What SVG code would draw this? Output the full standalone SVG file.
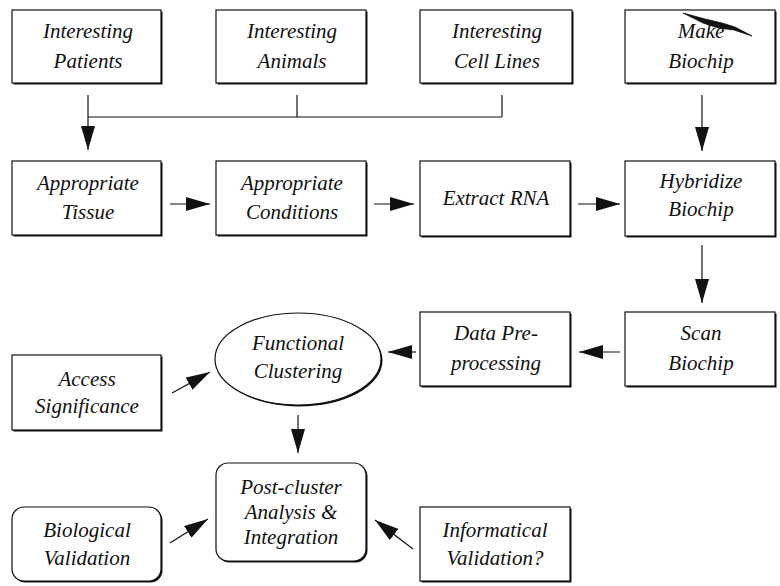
<svg xmlns="http://www.w3.org/2000/svg" width="780" height="586" viewBox="0 0 780 586">
<defs>
<marker id="ah" markerUnits="userSpaceOnUse" markerWidth="24" markerHeight="14" viewBox="0 0 24 14" refX="24" refY="7" orient="auto">
<path d="M0,0 L24,7 L0,14 z" fill="#111"/>
</marker>
</defs>
<rect width="780" height="586" fill="#fff"/>
<g id="patients">
<rect fill="#111" x="13.5" y="11.5" width="149" height="73"/>
<rect fill="#fff" stroke="#111" stroke-width="1.2" x="12" y="10" width="149" height="73"/>
<text font-family="Liberation Serif" font-style="italic" font-size="21" fill="#111" text-anchor="middle" x="88" y="38">Interesting</text>
<text font-family="Liberation Serif" font-style="italic" font-size="21" fill="#111" text-anchor="middle" x="88" y="68">Patients</text>
</g>
<g id="animals">
<rect fill="#111" x="217.5" y="11.5" width="150" height="73"/>
<rect fill="#fff" stroke="#111" stroke-width="1.2" x="216" y="10" width="150" height="73"/>
<text font-family="Liberation Serif" font-style="italic" font-size="21" fill="#111" text-anchor="middle" x="292" y="38">Interesting</text>
<text font-family="Liberation Serif" font-style="italic" font-size="21" fill="#111" text-anchor="middle" x="292" y="68">Animals</text>
</g>
<g id="celllines">
<rect fill="#111" x="421.5" y="11.5" width="152" height="73"/>
<rect fill="#fff" stroke="#111" stroke-width="1.2" x="420" y="10" width="152" height="73"/>
<text font-family="Liberation Serif" font-style="italic" font-size="21" fill="#111" text-anchor="middle" x="497" y="38">Interesting</text>
<text font-family="Liberation Serif" font-style="italic" font-size="21" fill="#111" text-anchor="middle" x="497" y="68">Cell Lines</text>
</g>
<g id="makebiochip">
<rect fill="#111" x="626.5" y="11.5" width="150" height="73"/>
<rect fill="#fff" stroke="#111" stroke-width="1.2" x="625" y="10" width="150" height="73"/>
<text font-family="Liberation Serif" font-style="italic" font-size="21" fill="#111" text-anchor="middle" x="701" y="38">Make</text>
<text font-family="Liberation Serif" font-style="italic" font-size="21" fill="#111" text-anchor="middle" x="701" y="68">Biochip</text>
<path d="M683,13 L705,19 L722,23 L735,27 L752,36 L734,30 L718,28 L703,23 Z" fill="#111" stroke="#111" stroke-width="0.8"/>
</g>

<g id="tissue">
<rect fill="#111" x="13.5" y="162.5" width="149" height="74"/>
<rect fill="#fff" stroke="#111" stroke-width="1.2" x="12" y="161" width="149" height="74"/>
<text font-family="Liberation Serif" font-style="italic" font-size="21" fill="#111" text-anchor="middle" x="88" y="190">Appropriate</text>
<text font-family="Liberation Serif" font-style="italic" font-size="21" fill="#111" text-anchor="middle" x="88" y="219">Tissue</text>
</g>
<g id="conditions">
<rect fill="#111" x="217.5" y="162.5" width="150" height="74"/>
<rect fill="#fff" stroke="#111" stroke-width="1.2" x="216" y="161" width="150" height="74"/>
<text font-family="Liberation Serif" font-style="italic" font-size="21" fill="#111" text-anchor="middle" x="292" y="190">Appropriate</text>
<text font-family="Liberation Serif" font-style="italic" font-size="21" fill="#111" text-anchor="middle" x="292" y="219">Conditions</text>
</g>
<g id="extract">
<rect fill="#111" x="421.5" y="162.5" width="150" height="75"/>
<rect fill="#fff" stroke="#111" stroke-width="1.2" x="420" y="161" width="150" height="75"/>
<text font-family="Liberation Serif" font-style="italic" font-size="21" fill="#111" text-anchor="middle" x="496" y="205">Extract RNA</text>
</g>
<g id="hybridize">
<rect fill="#111" x="626.5" y="162.5" width="150" height="75"/>
<rect fill="#fff" stroke="#111" stroke-width="1.2" x="625" y="161" width="150" height="75"/>
<text font-family="Liberation Serif" font-style="italic" font-size="21" fill="#111" text-anchor="middle" x="701" y="188">Hybridize</text>
<text font-family="Liberation Serif" font-style="italic" font-size="21" fill="#111" text-anchor="middle" x="701" y="216">Biochip</text>
</g>

<g id="scan">
<rect fill="#111" x="626.5" y="313.5" width="150" height="74"/>
<rect fill="#fff" stroke="#111" stroke-width="1.2" x="625" y="312" width="150" height="74"/>
<text font-family="Liberation Serif" font-style="italic" font-size="21" fill="#111" text-anchor="middle" x="701" y="340">Scan</text>
<text font-family="Liberation Serif" font-style="italic" font-size="21" fill="#111" text-anchor="middle" x="701" y="370">Biochip</text>
</g>
<g id="datapre">
<rect fill="#111" x="421.5" y="313.5" width="150" height="74"/>
<rect fill="#fff" stroke="#111" stroke-width="1.2" x="420" y="312" width="150" height="74"/>
<text font-family="Liberation Serif" font-style="italic" font-size="21" fill="#111" text-anchor="middle" x="496" y="340">Data Pre-</text>
<text font-family="Liberation Serif" font-style="italic" font-size="21" fill="#111" text-anchor="middle" x="496" y="370">processing</text>
</g>
<g id="functional">
<ellipse cx="299.5" cy="360.5" rx="83" ry="46" fill="#111"/>
<ellipse cx="298" cy="359" rx="83" ry="46" fill="#fff" stroke="#111" stroke-width="1.2"/>
<text font-family="Liberation Serif" font-style="italic" font-size="21" fill="#111" text-anchor="middle" x="298" y="350">Functional</text>
<text font-family="Liberation Serif" font-style="italic" font-size="21" fill="#111" text-anchor="middle" x="298" y="378">Clustering</text>
</g>
<g id="access">
<rect fill="#111" x="13.5" y="356.5" width="149" height="75"/>
<rect fill="#fff" stroke="#111" stroke-width="1.2" x="12" y="355" width="149" height="75"/>
<text font-family="Liberation Serif" font-style="italic" font-size="21" fill="#111" text-anchor="middle" x="87" y="386">Access</text>
<text font-family="Liberation Serif" font-style="italic" font-size="21" fill="#111" text-anchor="middle" x="87" y="413">Significance</text>
</g>

<g id="postcluster">
<rect fill="#111" x="217.5" y="464.5" width="150" height="98" rx="12"/>
<rect fill="#fff" stroke="#111" stroke-width="1.2" x="216" y="463" width="150" height="98" rx="12"/>
<text font-family="Liberation Serif" font-style="italic" font-size="21" fill="#111" text-anchor="middle" x="291" y="494">Post-cluster</text>
<text font-family="Liberation Serif" font-style="italic" font-size="21" fill="#111" text-anchor="middle" x="291" y="519">Analysis &amp;</text>
<text font-family="Liberation Serif" font-style="italic" font-size="21" fill="#111" text-anchor="middle" x="291" y="544">Integration</text>
</g>
<g id="biological">
<rect fill="#111" x="13.5" y="508.5" width="149" height="74" rx="12"/>
<rect fill="#fff" stroke="#111" stroke-width="1.2" x="12" y="507" width="149" height="74" rx="12"/>
<text font-family="Liberation Serif" font-style="italic" font-size="21" fill="#111" text-anchor="middle" x="87" y="537">Biological</text>
<text font-family="Liberation Serif" font-style="italic" font-size="21" fill="#111" text-anchor="middle" x="87" y="565">Validation</text>
</g>
<g id="informatical">
<rect fill="#111" x="421.5" y="508.5" width="150" height="74"/>
<rect fill="#fff" stroke="#111" stroke-width="1.2" x="420" y="507" width="150" height="74"/>
<text font-family="Liberation Serif" font-style="italic" font-size="21" fill="#111" text-anchor="middle" x="495" y="537">Informatical</text>
<text font-family="Liberation Serif" font-style="italic" font-size="21" fill="#111" text-anchor="middle" x="495" y="565">Validation?</text>
</g>
<g id="connectors" fill="none" stroke="#111" stroke-width="1.2">
<path d="M297,95 V117 M502,95 V117 M88,117 H502"/>
<path d="M88,95 V150" marker-end="url(#ah)"/>
<path d="M702,95 V151" marker-end="url(#ah)"/>
<path d="M170,204 H210" marker-end="url(#ah)"/>
<path d="M374,204 H414" marker-end="url(#ah)"/>
<path d="M578,204 H620" marker-end="url(#ah)"/>
<path d="M702,245 V303" marker-end="url(#ah)"/>
<path d="M620,352 H579" marker-end="url(#ah)"/>
<path d="M416,352 H388" marker-end="url(#ah)"/>
<path d="M172,393 L210,372" marker-end="url(#ah)"/>
<path d="M298,415 V453" marker-end="url(#ah)"/>
<path d="M170,543 L208,519" marker-end="url(#ah)"/>
<path d="M413,549 L375,520" marker-end="url(#ah)"/>
</g>
</svg>
